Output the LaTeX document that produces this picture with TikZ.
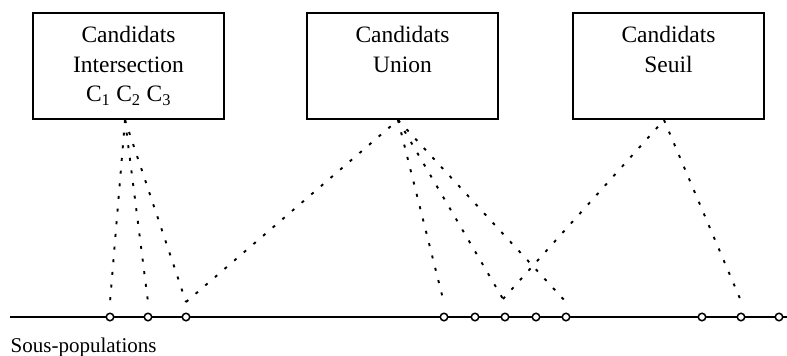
\documentclass[tikz,border=0pt]{standalone}
\usepackage{fontspec}
\setmainfont{Liberation Serif}
\begin{document}
\begin{tikzpicture}[x=1pt,y=-1pt,
  box/.style={draw, line width=1.4pt, rectangle, minimum width=191pt, minimum height=106pt, inner sep=0pt},
  lbl/.style={anchor=base, inner sep=0pt, font=\fontsize{23.5}{28}\selectfont},
  dots/.style={line width=1.9pt, dash pattern=on 3pt off 9.7pt},
  pt/.style={circle, draw, fill=white, line width=1.5pt, inner sep=0pt, minimum size=7.5pt},
  axis/.style={line width=1.6pt}]
\useasboundingbox (0,0) rectangle (787,356);
% boxes
\node[box] (b1) at (128.5,66) {};
\node[box] (b2) at (402.5,66) {};
\node[box] (b3) at (668.5,66) {};
\node[lbl] (t1a) at (128.5,42) {Candidats};
\node[lbl] (t1b) at (128.5,72) {Intersection};
\node[lbl] (t1c) at (128.5,101.5) {C\textsubscript{1} C\textsubscript{2} C\textsubscript{3}};
\node[lbl] (t2a) at (402.5,42) {Candidats};
\node[lbl] (t2b) at (402.5,72) {Union};
\node[lbl] (t3a) at (668.5,42) {Candidats};
\node[lbl] (t3b) at (668.5,72) {Seuil};
% connector start points
\coordinate (s1) at (125,120);
\coordinate (s2) at (398,120);
\coordinate (s3) at (664,120);
% connector end points
\coordinate (e1) at (110,302);
\coordinate (e2) at (148,302);
\coordinate (e3) at (186,302);
\coordinate (e4) at (443,299);
\coordinate (e5) at (503,299);
\coordinate (e6) at (566,302);
\coordinate (e7) at (741,301);
% axis
\coordinate (a0) at (10,317);
\coordinate (a1) at (787,317);
\draw[axis] (a0) -- (a1);
% dotted connectors
\draw[dots] (s1) -- (e1);
\draw[dots] (s1) -- (e2);
\draw[dots] (s1) -- (e3);
\draw[dots] (e3) -- (s2);
\draw[dots] (s2) -- (e4);
\draw[dots] (s2) -- (e5);
\draw[dots] (s2) -- (e6);
\draw[dots] (e5) -- (s3);
\draw[dots] (s3) -- (e7);
% points
\foreach \x/\n in {110/p1,148/p2,186/p3,444/p4,475/p5,505/p6,536/p7,566/p8,702/p9,741/p10,779/p11}
  \node[pt] (\n) at (\x,317) {};
\node[anchor=base west, inner sep=0pt, font=\fontsize{21}{25}\selectfont] (sp) at (10.5,352) {Sous-populations};
\end{tikzpicture}
\end{document}
